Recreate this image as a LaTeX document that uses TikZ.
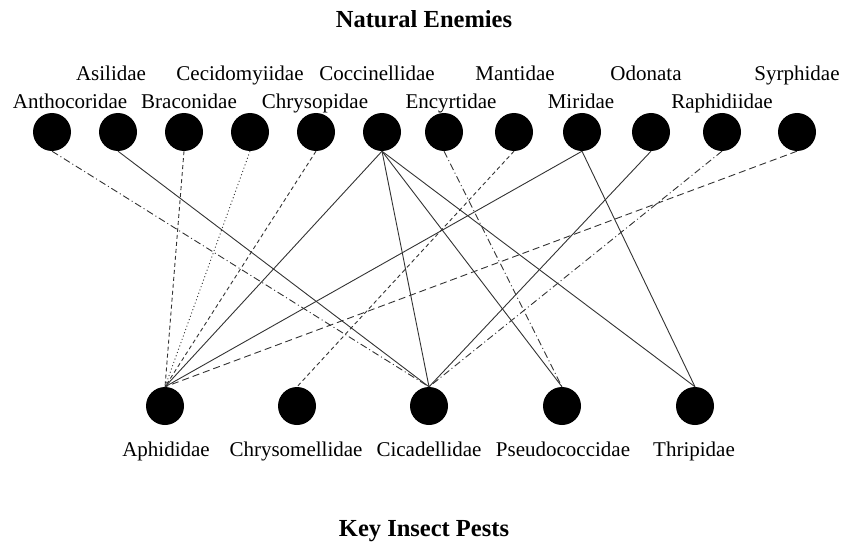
\documentclass[tikz,border=0pt]{standalone}
\usepackage{fontspec}
\setmainfont{Liberation Serif}
\begin{document}
\begin{tikzpicture}[x=1pt,y=-1pt,
  dot/.style={circle,fill=black,draw=none,minimum size=38pt,inner sep=0pt},
  lab/.style={font=\fontsize{21}{25}\selectfont,inner sep=0pt,anchor=base},
  ttl/.style={font=\fontsize{24.5}{29}\selectfont\bfseries,inner sep=0pt,anchor=base},
  edge/.style={draw=black!80,line width=0.9pt},
  sol/.style={edge},
  dsh/.style={edge,dash pattern=on 4pt off 3pt},
  ldsh/.style={edge,dash pattern=on 7pt off 4pt},
  dtt/.style={edge,dash pattern=on 1pt off 2.5pt},
  ddt/.style={edge,dash pattern=on 7pt off 3pt on 1pt off 3pt}]
\useasboundingbox (0,0) rectangle (845,548);
% titles
\node[ttl] (t1) at (424,28) {Natural Enemies};
\node[ttl] (t2) at (424,536) {Key Insect Pests};
% top nodes
\node[dot] (antho) at (52,132) {};
\node[dot] (asil)  at (118,132) {};
\node[dot] (brac)  at (184,132) {};
\node[dot] (ceci)  at (250,132) {};
\node[dot] (chry)  at (316,132) {};
\node[dot] (cocc)  at (382,132) {};
\node[dot] (ency)  at (444,132) {};
\node[dot] (mant)  at (514,132) {};
\node[dot] (miri)  at (582,132) {};
\node[dot] (odon)  at (651,132) {};
\node[dot] (raph)  at (722,132) {};
\node[dot] (syrp)  at (797,132) {};
% top labels
\node[lab] (lasil) at (111,81) {Asilidae};
\node[lab] (lceci) at (240,81) {Cecidomyiidae};
\node[lab] (lcocc) at (377,81) {Coccinellidae};
\node[lab] (lmant) at (515,81) {Mantidae};
\node[lab] (lodon) at (646,81) {Odonata};
\node[lab] (lsyrp) at (797,81) {Syrphidae};
\node[lab] (lantho) at (70,109) {Anthocoridae};
\node[lab] (lbrac) at (189,109) {Braconidae};
\node[lab] (lchry) at (315,109) {Chrysopidae};
\node[lab] (lency) at (451,109) {Encyrtidae};
\node[lab] (lmiri) at (581,109) {Miridae};
\node[lab] (lraph) at (722,109) {Raphidiidae};
% bottom nodes
\node[dot] (aphi) at (165,406) {};
\node[dot] (chrm) at (297,406) {};
\node[dot] (cica) at (429,406) {};
\node[dot] (pseu) at (562,406) {};
\node[dot] (thri) at (695,406) {};
% bottom labels
\node[lab] (laphi) at (166,456) {Aphididae};
\node[lab] (lchrm) at (296,456) {Chrysomellidae};
\node[lab] (lcica) at (429,456) {Cicadellidae};
\node[lab] (lpseu) at (563,456) {Pseudococcidae};
\node[lab] (lthri) at (694,456) {Thripidae};
% edges
\draw[ddt] (antho.south) -- (cica.north);
\draw[sol] (asil.south) -- (cica.north);
\draw[dsh] (brac.south) -- (aphi.north);
\draw[dtt] (ceci.south) -- (aphi.north);
\draw[dsh] (chry.south) -- (aphi.north);
\draw[sol] (cocc.south) -- (aphi.north);
\draw[sol] (cocc.south) -- (cica.north);
\draw[sol] (cocc.south) -- (pseu.north);
\draw[sol] (cocc.south) -- (thri.north);
\draw[ddt] (ency.south) -- (pseu.north);
\draw[dsh] (mant.south) -- (chrm.north);
\draw[sol] (miri.south) -- (aphi.north);
\draw[sol] (miri.south) -- (thri.north);
\draw[sol] (odon.south) -- (cica.north);
\draw[ddt] (raph.south) -- (cica.north);
\draw[ldsh] (syrp.south) -- (aphi.north);
\end{tikzpicture}
\end{document}
